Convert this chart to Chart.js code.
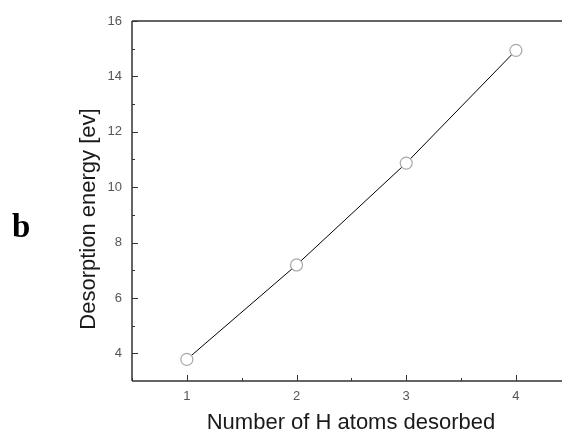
<!DOCTYPE html>
<html>
<head>
<meta charset="utf-8">
<script src="https://cdn.jsdelivr.net/npm/chart.js@4/dist/chart.umd.min.js"></script>
<style>
html,body{margin:0;padding:0;background:#fff;overflow:hidden;}
#wrap{position:relative;width:562px;height:432px;}
</style>
</head>
<body>
<div id="wrap"><canvas id="c" width="562" height="432"></canvas></div>
<script>
const categories = [1, 2, 3, 4];
const desorptionEnergy = [3.78, 7.19, 10.87, 14.94];
const xTickValues = [1, 2, 3, 4];
const xMinorValues = [0.5, 1.5, 2.5, 3.5];
const yTickValues = [4, 6, 8, 10, 12, 14, 16];
const yMinorValues = [5, 7, 9, 11, 13, 15];
const xTitle = 'Number of H atoms desorbed';
const yTitle = 'Desorption energy [ev]';
const panelLabel = 'b';

const axisColor = '#333';
const framePlugin = {
  id: 'frame',
  afterDraw(chart) {
    const ctx = chart.ctx, a = chart.chartArea;
    const xs = chart.scales.x, ys = chart.scales.y;
    ctx.save();
    ctx.strokeStyle = axisColor;
    ctx.lineWidth = 1.5;
    ctx.beginPath();
    ctx.moveTo(a.left, a.top); ctx.lineTo(a.right, a.top);
    ctx.moveTo(a.left, a.top); ctx.lineTo(a.left, a.bottom);
    ctx.moveTo(a.left, a.bottom); ctx.lineTo(a.right, a.bottom);
    ctx.stroke();
    ctx.lineWidth = 1;
    ctx.beginPath();
    xTickValues.forEach(v => { const p = Math.round(xs.getPixelForValue(v)) + 0.5; ctx.moveTo(p, a.bottom); ctx.lineTo(p, a.bottom - 6); });
    xMinorValues.forEach(v => { const p = Math.round(xs.getPixelForValue(v)) + 0.5; ctx.moveTo(p, a.bottom); ctx.lineTo(p, a.bottom - 3); });
    yTickValues.forEach(v => { const p = Math.round(ys.getPixelForValue(v)) + 0.5; ctx.moveTo(a.left, p); ctx.lineTo(a.left + 6, p); });
    yMinorValues.forEach(v => { const p = Math.round(ys.getPixelForValue(v)) + 0.5; ctx.moveTo(a.left, p); ctx.lineTo(a.left + 3, p); });
    ctx.stroke();
    ctx.fillStyle = '#1a1a1a';
    ctx.font = '22px "Liberation Sans", Arial, sans-serif';
    ctx.textAlign = 'center'; ctx.textBaseline = 'middle';
    ctx.fillText(xTitle, 351, 423);
    ctx.save();
    ctx.translate(89, 219);
    ctx.rotate(-Math.PI / 2);
    ctx.fillText(yTitle, 0, 0);
    ctx.restore();
    ctx.fillStyle = '#000';
    ctx.font = 'bold 33px "Liberation Serif", "Times New Roman", serif';
    ctx.textAlign = 'left'; ctx.textBaseline = 'alphabetic';
    ctx.fillText(panelLabel, 12, 237);
    ctx.restore();
  }
};

new Chart(document.getElementById('c'), {
  type: 'scatter',
  data: {
    datasets: [{
      data: categories.map((x, i) => ({x: x, y: desorptionEnergy[i]})),
      showLine: true,
      borderColor: '#000',
      borderWidth: 1,
      pointRadius: 6,
      pointHoverRadius: 6,
      pointBackgroundColor: '#fff',
      pointBorderColor: '#aaa',
      pointBorderWidth: 1.2
    }]
  },
  options: {
    responsive: false,
    animation: false,
    events: [],
    layout: {autoPadding: false, padding: {left: 0, top: 21, right: 0, bottom: 0}},
    plugins: {legend: {display: false}, tooltip: {enabled: false}},
    scales: {
      x: {
        type: 'linear', min: 0.5, max: 4.42,
        grid: {display: false, drawTicks: false},
        border: {display: false},
        afterBuildTicks: s => { s.ticks = xTickValues.map(v => ({value: v})); },
        afterFit: s => { s.height = 51; s.paddingLeft = 0; s.paddingRight = 0; },
        ticks: {padding: 8, color: '#555', font: {family: '"Liberation Sans", Arial, sans-serif', size: 13}}
      },
      y: {
        type: 'linear', min: 3, max: 16,
        grid: {display: false, drawTicks: false},
        border: {display: false},
        afterBuildTicks: s => { s.ticks = yTickValues.map(v => ({value: v})); },
        afterFit: s => { s.width = 132; s.paddingTop = 0; s.paddingBottom = 0; },
        ticks: {padding: 10, color: '#555', font: {family: '"Liberation Sans", Arial, sans-serif', size: 13}}
      }
    }
  },
  plugins: [framePlugin]
});
</script>
</body>
</html>
